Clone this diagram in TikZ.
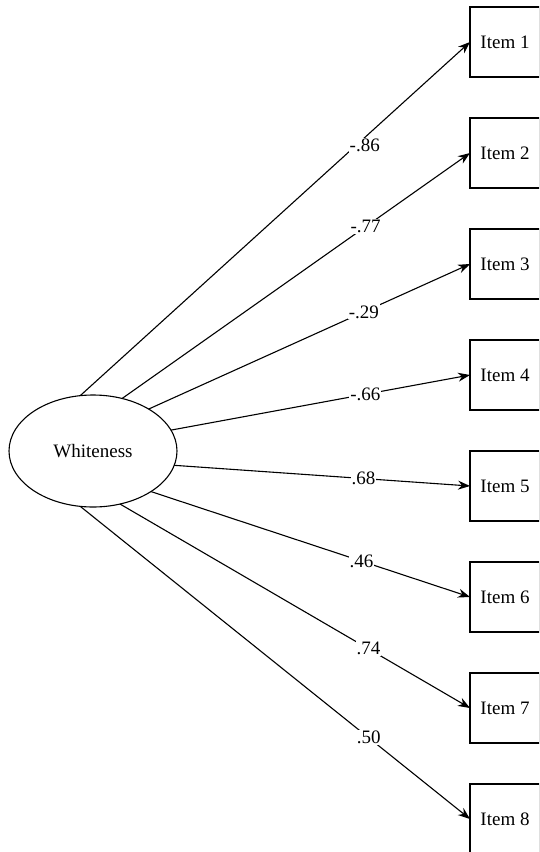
\documentclass[tikz,border=0pt]{standalone}
\usepackage{fontspec}
\setmainfont{Liberation Serif}
\usetikzlibrary{arrows.meta,shapes.geometric}
\begin{document}
\begin{tikzpicture}[x=1pt,y=-1pt,
  every node/.style={font=\fontsize{19}{22}\selectfont},
  itembox/.style={draw, line width=1.1pt, rectangle, minimum width=70pt, minimum height=70pt, outer sep=0pt, inner sep=0pt},
  latent/.style={draw, line width=1.1pt, ellipse, minimum width=168pt, minimum height=112pt, outer sep=0pt, inner sep=0pt},
  loadarrow/.style={line width=1.1pt, -{Stealth[length=12pt,width=9pt]}},
  coef/.style={fill=white, inner sep=1pt}]
\useasboundingbox (0,0) rectangle (539,852);
\clip (0,0) rectangle (539,852);
\node[latent] (w) at (93,451) {Whiteness};
\foreach \i in {1,...,8}{
  \node[itembox] (i\i) at (505,{42+111*(\i-1)}) {Item \i};
}
\draw[loadarrow] (w.103) -- node[coef, pos=0.73, yshift=-8pt] {-.86} (i1.west);
\draw[loadarrow] (w.61) -- node[coef, pos=0.70] {-.77} (i2.west);
\draw[loadarrow] (w.37) -- node[coef, pos=0.67] {-.29} (i3.west);
\draw[loadarrow] (w.15) -- node[coef, pos=0.65] {-.66} (i4.west);
\draw[loadarrow] (w.-10) -- node[coef, pos=0.64] {.68} (i5.west);
\draw[loadarrow] (w.-35) -- node[coef, pos=0.66] {.46} (i6.west);
\draw[loadarrow] (w.-63) -- node[coef, pos=0.71] {.74} (i7.west);
\draw[loadarrow] (w.-103) -- node[coef, pos=0.74] {.50} (i8.west);
\end{tikzpicture}
\end{document}
